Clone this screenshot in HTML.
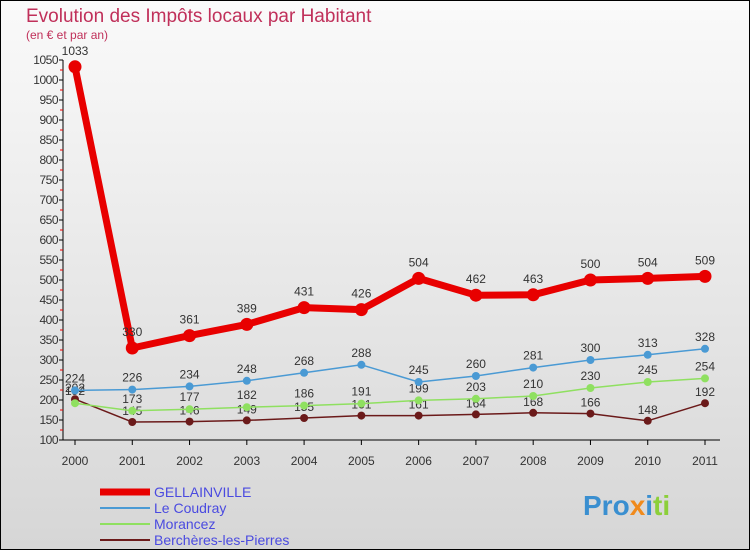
<!DOCTYPE html>
<html><head><meta charset="utf-8"><style>
body{margin:0;width:750px;height:550px;overflow:hidden;font-family:"Liberation Sans",sans-serif}
svg text{font-family:"Liberation Sans",sans-serif}
</style></head><body>
<svg width="750" height="550">
<defs><linearGradient id="bg" x1="0" y1="0" x2="0" y2="1"><stop offset="0" stop-color="#fafafa"/><stop offset="1" stop-color="#d6d6d6"/></linearGradient></defs>
<rect x="0.5" y="0.5" width="749" height="549" fill="url(#bg)" stroke="#000"/>
<text x="26" y="22" font-size="19" fill="#c0305a">Evolution des Impôts locaux par Habitant</text>
<text x="26" y="39" font-size="12" fill="#c0305a">(en € et par an)</text>
<g id="axes"></g><g id="series"></g><g id="legend"></g>
<text x="583" y="515" font-size="28" font-weight="bold"><tspan fill="#3a8fd0">Pro</tspan><tspan fill="#f08a1c">x</tspan><tspan fill="#3a8fd0">i</tspan><tspan fill="#8ccf3a">ti</tspan></text>
</svg>
<script>
const years=[2000,2001,2002,2003,2004,2005,2006,2007,2008,2009,2010,2011];
const gellainville=[1033,330,361,389,431,426,504,462,463,500,504,509];
const coudray=[224,226,234,248,268,288,245,260,281,300,313,328];
const morancez=[192,173,177,182,186,191,199,203,210,230,245,254];
const bercheres=[202,145,146,149,155,161,161,164,168,166,148,192];
const yTicks=[100,150,200,250,300,350,400,450,500,550,600,650,700,750,800,850,900,950,1000,1050];
const NS="http://www.w3.org/2000/svg";
const xs=i=>75+i*(630/11);
const ys=v=>440-(v-100)*0.4;
function mk(t,a,p){const e=document.createElementNS(NS,t);for(const k in a)e.setAttribute(k,a[k]);p.appendChild(e);return e;}
const ax=document.getElementById('axes');
let l=mk('line',{x1:63,y1:60,x2:63,y2:440,stroke:'#000'},ax);


l=mk('line',{x1:63,y1:440,x2:720,y2:440,stroke:'#000'},ax);


yTicks.forEach(v=>{
 const y=ys(v);
 mk('line',{x1:59,y1:y,x2:63,y2:y,stroke:'#000'},ax);
 if(v>100) mk('line',{x1:60,y1:y+10,x2:63,y2:y+10,stroke:'#e00'},ax);
 const t=mk('text',{x:58,y:y+4,'font-size':12,'text-anchor':'end',fill:'#333','letter-spacing':'-0.5'},ax);
 t.textContent=v;
 
 
});
years.forEach((yr,i)=>{
 mk('line',{x1:xs(i),y1:440,x2:xs(i),y2:445,stroke:'#000'},ax);
 const t=mk('text',{x:xs(i),y:465,'font-size':12,'text-anchor':'middle',fill:'#333'},ax);
 t.textContent=yr;
 
 
});
const sg=document.getElementById('series');
function draw(vals,color,w,r,name,dy){
 const g=mk('g',{},sg);
 
 
 const p=mk('polyline',{points:vals.map((v,i)=>xs(i)+','+ys(v)).join(' '),fill:'none',stroke:color,'stroke-width':w,'stroke-linejoin':'round'},g);
 
 
 vals.forEach((v,i)=>{
  const c=mk('circle',{cx:xs(i),cy:ys(v),r:r,fill:color},g);
  
  
  const t=mk('text',{x:xs(i),y:ys(v)-dy,'font-size':12,'text-anchor':'middle',fill:'#333'},g);
  t.textContent=v;
  
  
 });
}
draw(bercheres,'#6b1a1a',1.5,4,'bercheres',7);
draw(morancez,'#8fe060',1.5,4,'morancez',8);
draw(coudray,'#4a9ad4',1.5,4,'le-coudray',8);
draw(gellainville,'#e80000',7,6.5,'gellainville',12);
const lg=document.getElementById('legend');
[['GELLAINVILLE','#e80000',7],['Le Coudray','#4a9ad4',2],['Morancez','#8fe060',2],['Berchères-les-Pierres','#6b1a1a',2]].forEach((d,i)=>{
 const y=492+i*16;
 const g=mk('g',{},lg);
 
 
 mk('line',{x1:100,y1:y,x2:150,y2:y,stroke:d[1],'stroke-width':d[2]},g);
 const t=mk('text',{x:154,y:y+5,'font-size':14,fill:'#4a4ae0'},g);
 t.textContent=d[0];
});
</script>
</body></html>
